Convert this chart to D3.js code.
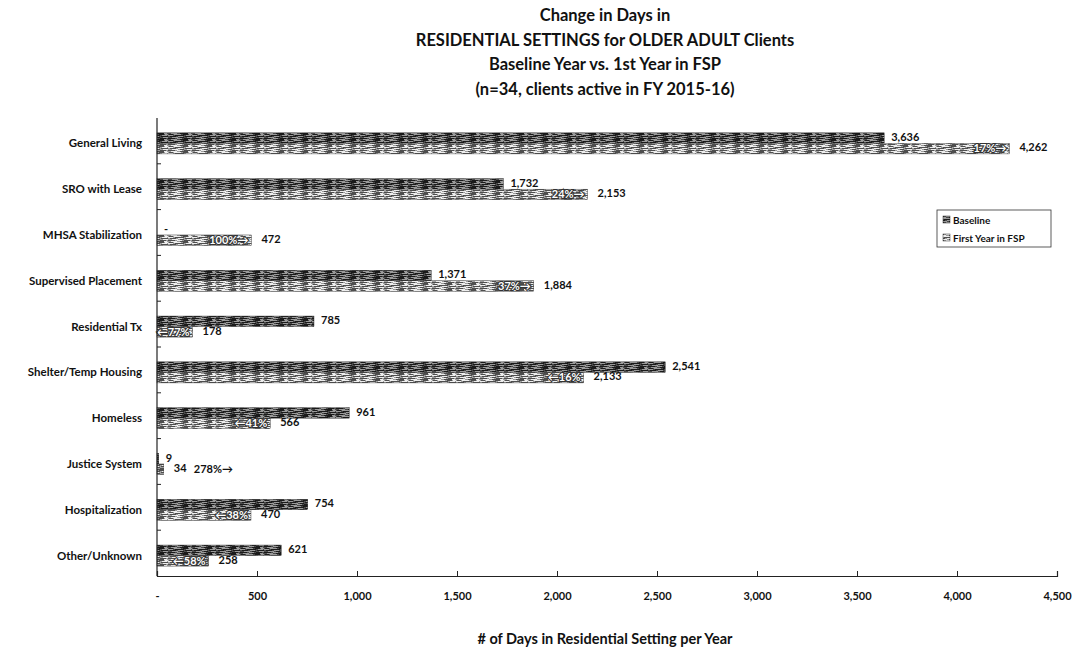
<!DOCTYPE html>
<html><head><meta charset="utf-8">
<script src="https://cdn.jsdelivr.net/npm/d3@7"></script>
<style>
html,body{margin:0;padding:0;background:#fff;}
svg{display:block;font-family:Lato,"Open Sans",sans-serif;}
</style></head>
<body><svg id="chart" width="1078" height="648"></svg>
<script>
const titleLines = ["Change in Days in","RESIDENTIAL SETTINGS for OLDER ADULT Clients","Baseline Year vs. 1st Year in FSP","(n=34, clients active in FY 2015-16)"];
const categories = ["General Living","SRO with Lease","MHSA Stabilization","Supervised Placement","Residential Tx","Shelter/Temp Housing","Homeless","Justice System","Hospitalization","Other/Unknown"];
const baseline = [3636,1732,0,1371,785,2541,961,9,754,621];
const firstYear = [4262,2153,472,1884,178,2133,566,34,470,258];
const pctLabels = ["17%\u2192","24%\u2192","100%\u2192","37%\u2192","\u219077%","\u219016%","\u219041%","278%\u2192","\u219038%","\u219058%"];
const xTicks = [0,500,1000,1500,2000,2500,3000,3500,4000,4500];
const seriesNames = ["Baseline","First Year in FSP"];
const xTitle = "# of Days in Residential Setting per Year";

(function(){
const svg = d3.select("#chart");
const pLeft = 157, pRight = 1057, pTop = 118, pBottom = 576;

const defs = svg.append("defs");
function makePattern(id, base, dark, light){
  const p = defs.append("pattern").attr("id",id).attr("patternUnits","userSpaceOnUse")
    .attr("width",24).attr("height",6);
  p.append("rect").attr("width",24).attr("height",6).attr("fill",base);
  const streaks = [[0,0,7,dark],[9,0,5,light],[16,0,6,dark],[3,1,6,light],[12,1,8,dark],[20,1,3,light],
    [1,2,4,dark],[6,2,7,light],[15,2,5,dark],[21,2,3,light],[0,3,5,light],[7,3,9,dark],[18,3,5,light],
    [2,4,6,dark],[10,4,5,light],[17,4,7,dark],[4,5,6,light],[12,5,4,dark],[19,5,5,light]];
  streaks.forEach(s=>p.append("rect").attr("x",s[0]).attr("y",s[1]).attr("width",s[2]).attr("height",1).attr("fill",s[3]));
}
makePattern("patBase","#4a4a4a","#1a1a1a","#9a9a9a");
makePattern("patFsp","#9c9c9c","#4e4e4e","#eeeeee");
const fills = ["url(#patBase)","url(#patFsp)"];

const x = d3.scaleLinear().domain([0,4500]).range([pLeft,pRight]);
const y = d3.scaleBand().domain(categories).range([pTop,pBottom]).paddingInner(0.54).paddingOuter(0.27).align(0.6);
const ySub = d3.scaleBand().domain([0,1]).range([0,y.bandwidth()]);
const yBoundary = d3.scaleBand().domain(categories).range([pTop,pBottom]);

svg.append("g").selectAll("text").data(titleLines).join("text")
  .attr("x",605).attr("y",(d,i)=>21+i*24.5).attr("text-anchor","middle")
  .attr("font-size",16.5).attr("font-weight","bold").attr("fill","#111").text(d=>d);

const fmt = v => v===0 ? "-" : d3.format(",")(v);
const rows = categories.map((c,i)=>({c, vals:[baseline[i],firstYear[i]], pct:pctLabels[i]}));
const g = svg.append("g");
rows.forEach(r=>{
  r.vals.forEach((v,s)=>{
    const y0 = y(r.c)+ySub(s);
    const h = ySub.bandwidth();
    if(v>0) g.append("rect").attr("x",x(0)).attr("y",y0).attr("width",x(v)-x(0)).attr("height",h)
      .attr("fill",fills[s]).attr("stroke","#222").attr("stroke-width",0.4);
    const off = s===0 ? 7 : 10;
    g.append("text").attr("x",x(v)+off).attr("y",y0+h/2-1).attr("dy","0.35em")
      .attr("font-size",11).attr("font-weight","bold").attr("fill","#111").text(fmt(v));
  });
  const v = r.vals[1];
  const y1 = y(r.c)+ySub(1)+ySub.bandwidth()/2;
  if(x(v)-x(0) > 32){
    g.append("text").attr("x",x(v)-3).attr("y",y1).attr("dy","0.35em").attr("text-anchor","end")
      .attr("font-size",11).attr("font-weight","bold").attr("fill","#fff")
      .attr("stroke","#333").attr("stroke-width",2.2).attr("paint-order","stroke").text(r.pct);
  } else {
    g.append("text").attr("x",x(v)+30).attr("y",y1).attr("dy","0.35em")
      .attr("font-size",11).attr("font-weight","bold").attr("fill","#111").text(r.pct);
  }
});

svg.append("line").attr("x1",pLeft).attr("x2",pLeft).attr("y1",pTop).attr("y2",pBottom).attr("stroke","#222").attr("stroke-width",1.2);
svg.append("g").selectAll("line").data(categories.slice(1)).join("line")
  .attr("x1",pLeft).attr("x2",pLeft+4).attr("y1",d=>yBoundary(d)).attr("y2",d=>yBoundary(d)).attr("stroke","#222");
svg.append("g").selectAll("text").data(categories).join("text")
  .attr("x",142).attr("y",d=>y(d)+y.bandwidth()/2).attr("dy","0.35em").attr("text-anchor","end")
  .attr("font-size",11.5).attr("font-weight","bold").attr("fill","#111").text(d=>d);

const xAxis = d3.axisBottom(x).tickValues(xTicks).tickSize(-5).tickPadding(16).tickFormat(fmt);
const xa = svg.append("g").attr("transform",`translate(0,${pBottom})`).call(xAxis);
xa.select(".domain").attr("stroke","#222").attr("stroke-width",1.2);
xa.selectAll(".tick line").attr("stroke","#222");
xa.selectAll(".tick text").attr("font-size",11).attr("font-weight","bold").attr("fill","#111")
  .attr("font-family","Lato,sans-serif");

svg.append("text").attr("x",605).attr("y",644).attr("text-anchor","middle")
  .attr("font-size",14.5).attr("font-weight","bold").attr("fill","#111").text(xTitle);

const lg = svg.append("g").attr("transform","translate(937,210)");
lg.append("rect").attr("width",114).attr("height",37).attr("fill","#fff").attr("stroke","#333").attr("stroke-width",0.8);
seriesNames.forEach((n,i)=>{
  lg.append("rect").attr("x",6).attr("y",6+i*18).attr("width",7).attr("height",7).attr("fill",fills[i]).attr("stroke","#333").attr("stroke-width",0.5);
  lg.append("text").attr("x",16).attr("y",10+i*18).attr("dy","0.35em").attr("font-size",10).attr("font-weight","bold").attr("fill","#111").text(n);
});
})();
</script></body></html>
